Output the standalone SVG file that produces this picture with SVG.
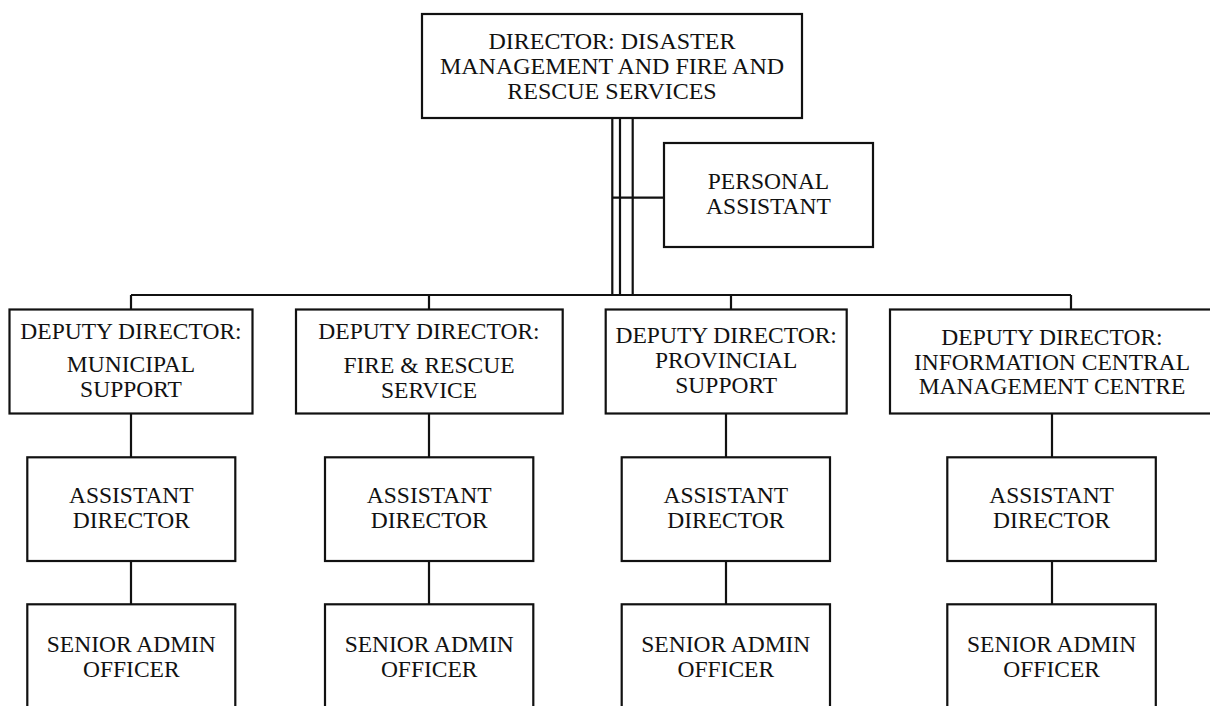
<svg xmlns="http://www.w3.org/2000/svg" width="1210" height="706" viewBox="0 0 1210 706">
<style>
.box{fill:#fff;stroke:#111;stroke-width:2.2}
.ln{fill:none;stroke:#111;stroke-width:2.2}
text{font-family:"Liberation Serif","Times New Roman",serif;font-size:23.5px;fill:#111;text-anchor:middle}
.big{font-size:24px}
</style>
<rect width="1210" height="706" fill="#fff"/>
<g id="connectors">
<path class="ln" d="M612.3 118V295M620 118V295M632.7 118V295M612.3 197.7H664"/>
<path class="ln" d="M131 295H1071M131 295V309.5M429 295V309.5M731 295V309.5M1071 295V309.5"/>
<path class="ln" d="M131 413.3V457.3M131 561V604.3M429 413.3V457.3M429 561V604.3M726 413.3V457.3M726 561V604.3M1052 413.3V457.3M1052 561V604.3"/>
</g>
<g id="director">
<rect class="box" x="422" y="14" width="380" height="104"/>
<text class="big" x="612" y="49">DIRECTOR: DISASTER</text>
<text class="big" x="612" y="73.5">MANAGEMENT AND FIRE AND</text>
<text class="big" x="612" y="98.5">RESCUE SERVICES</text>
</g>
<g id="pa">
<rect class="box" x="664" y="143" width="209" height="104"/>
<text x="768.5" y="189">PERSONAL</text>
<text x="768.5" y="213.5">ASSISTANT</text>
</g>
<g id="dd1">
<rect class="box" x="9.5" y="309.5" width="243" height="104"/>
<text x="131" y="339.3">DEPUTY DIRECTOR:</text>
<text x="131" y="371.7">MUNICIPAL</text>
<text x="131" y="396.7">SUPPORT</text>
</g>
<g id="dd2">
<rect class="box" x="296" y="309.5" width="266.7" height="104"/>
<text x="429" y="339.3">DEPUTY DIRECTOR:</text>
<text x="429" y="373.3">FIRE &amp; RESCUE</text>
<text x="429" y="398.3">SERVICE</text>
</g>
<g id="dd3">
<rect class="box" x="605.7" y="309.5" width="241" height="104"/>
<text x="726.2" y="343.3">DEPUTY DIRECTOR:</text>
<text x="726.2" y="368.3">PROVINCIAL</text>
<text x="726.2" y="393.3">SUPPORT</text>
</g>
<g id="dd4">
<rect class="box" x="890" y="309.5" width="326" height="104"/>
<text x="1052" y="344.5">DEPUTY DIRECTOR:</text>
<text x="1052" y="369.5">INFORMATION CENTRAL</text>
<text x="1052" y="394">MANAGEMENT CENTRE</text>
</g>
<g id="ad1"><rect class="box" x="27.3" y="457.3" width="208" height="103.7"/><text x="131.3" y="503.3">ASSISTANT</text><text x="131.3" y="528.3">DIRECTOR</text></g>
<g id="ad2"><rect class="box" x="325" y="457.3" width="208.3" height="103.7"/><text x="429.2" y="503.3">ASSISTANT</text><text x="429.2" y="528.3">DIRECTOR</text></g>
<g id="ad3"><rect class="box" x="621.7" y="457.3" width="208.3" height="103.7"/><text x="725.8" y="503.3">ASSISTANT</text><text x="725.8" y="528.3">DIRECTOR</text></g>
<g id="ad4"><rect class="box" x="947.3" y="457.3" width="208.5" height="103.7"/><text x="1051.6" y="503.3">ASSISTANT</text><text x="1051.6" y="528.3">DIRECTOR</text></g>
<g id="sa1"><rect class="box" x="27.3" y="604.3" width="208" height="120"/><text x="131.3" y="651.7">SENIOR ADMIN</text><text x="131.3" y="676.7">OFFICER</text></g>
<g id="sa2"><rect class="box" x="325" y="604.3" width="208.3" height="120"/><text x="429.2" y="651.7">SENIOR ADMIN</text><text x="429.2" y="676.7">OFFICER</text></g>
<g id="sa3"><rect class="box" x="621.7" y="604.3" width="208.3" height="120"/><text x="725.8" y="651.7">SENIOR ADMIN</text><text x="725.8" y="676.7">OFFICER</text></g>
<g id="sa4"><rect class="box" x="947.3" y="604.3" width="208.5" height="120"/><text x="1051.6" y="651.7">SENIOR ADMIN</text><text x="1051.6" y="676.7">OFFICER</text></g>
</svg>
